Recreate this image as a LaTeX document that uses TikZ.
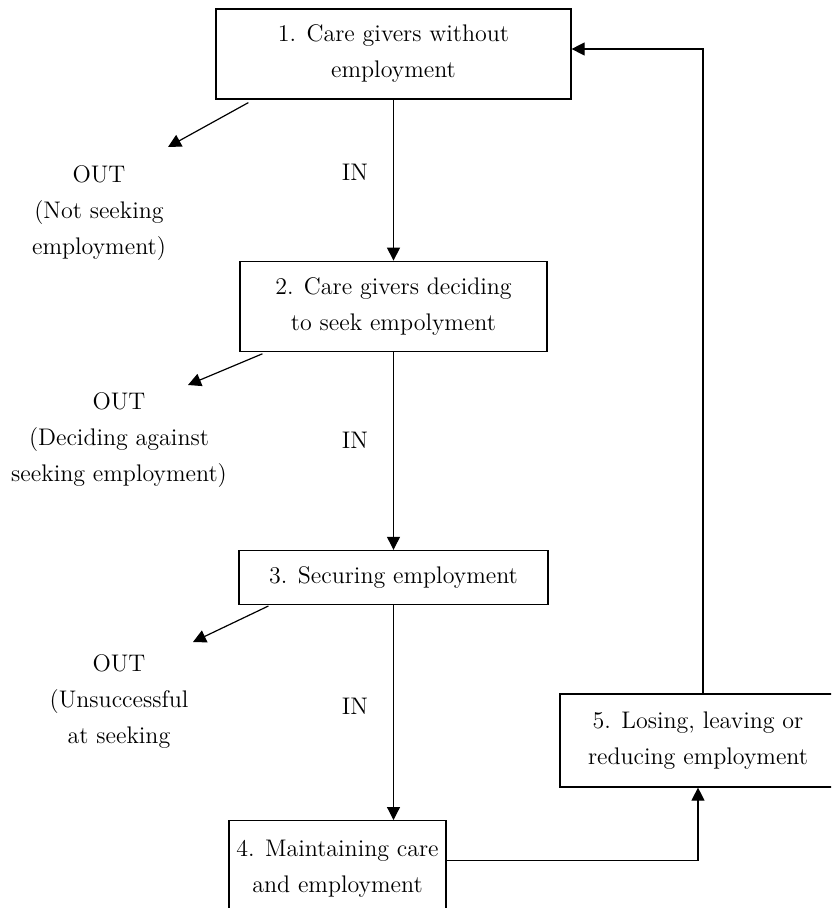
\documentclass[tikz,border=0pt]{standalone}
\usepackage{tikz}
\usetikzlibrary{arrows.meta,positioning,calc}
\tikzstyle{line} = [draw, line width=0.6pt, -{Triangle[length=6.5pt,width=6.5pt]}]
\tikzstyle{stage} = [draw, rectangle, line width=0.6pt, align=center, inner sep=0pt]
\tikzstyle{note} = [align=center, inner sep=0pt]

\begin{document}
\begin{tikzpicture}[x=0.5pt, y=-0.5pt, font=\fontsize{12}{18}\selectfont]
    \useasboundingbox (0,0) rectangle (831,908);
    \clip (0,0) rectangle (831,908);

    \node [stage, minimum width=177.5pt, minimum height=45pt] (box1) at (393.5,54) {1. Care givers without\\employment};
    \node [stage, minimum width=153.5pt, minimum height=45pt, below=80.5pt of box1] (box2) {2. Care givers deciding\\to seek empolyment};
    \node [stage, minimum width=154.5pt, minimum height=27pt, below=99pt of box2] (box3) {3. Securing employment};
    \node [stage, minimum width=108.5pt, minimum height=48pt, below=107.5pt of box3, xshift=-28pt] (box4) {4. Maintaining care\\and employment};
    \node [stage, minimum width=138pt, minimum height=46.5pt] (box5) at (698,740.5) {5. Losing, leaving or\\reducing employment};

    \node (in1) at (355,172) {IN};
    \node (in2) at (355,440) {IN};
    \node (in3) at (355,706) {IN};

    \node [note] (out1) at (99,213) {OUT\\(Not seeking\\employment)};
    \node [note] (out2) at (119,440) {OUT\\(Deciding against\\seeking employment)};
    \node [note] (out3) at (119,702) {OUT\\(Unsuccessful\\at seeking};

    \coordinate (tip1) at (168,147);
    \coordinate (tip2) at (188,385);
    \coordinate (tip3) at (193,642);

    \path [line] (box1) -- (box2);
    \path [line] (box2) -- (box3);
    \path [line] (box3.south) -- (box3.south |- box4.north);
    \path [line] ($(box4.east)+(0,-8)$) -| (box5.south);
    \path [line] ($(box5.north)+(5,0)$) |- ($(box1.east)+(0,-5)$);

    \path [line] ($(box1.south west)+(33,3)$) -- (tip1);
    \path [line] ($(box2.south west)+(23,2)$) -- (tip2);
    \path [line] ($(box3.south west)+(30,1)$) -- (tip3);
\end{tikzpicture}
\end{document}
